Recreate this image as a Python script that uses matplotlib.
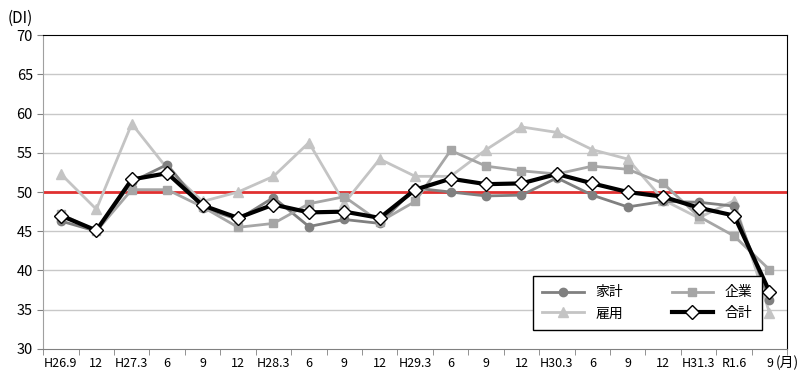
import matplotlib.pyplot as plt

plt.rcParams['font.family'] = ['Noto Sans CJK JP', 'DejaVu Sans']

labels = ['H26.9', '12', 'H27.3', '6', '9', '12', 'H28.3', '6', '9', '12', 'H29.3',
          '6', '9', '12', 'H30.3', '6', '9', '12', 'H31.3', 'R1.6', '9']

kakei = [46.3, 45.0, 51.3, 53.5, 48.0, 46.5, 49.3, 45.6, 46.5, 46.0, 50.5,
         50.0, 49.5, 49.6, 51.8, 49.6, 48.1, 48.8, 48.7, 48.2, 36.2]
kigyo = [47.2, 45.0, 50.3, 50.3, 48.1, 45.5, 46.0, 48.5, 49.4, 46.2, 48.8,
         55.3, 53.3, 52.7, 52.3, 53.3, 52.9, 51.1, 46.9, 44.4, 40.1]
koyo = [52.3, 47.8, 58.7, 53.0, 48.8, 50.0, 52.0, 56.3, 48.6, 54.2, 52.0,
        52.0, 55.4, 58.3, 57.6, 55.4, 54.2, 49.0, 46.7, 48.9, 34.6]
goukei = [47.0, 45.1, 51.6, 52.4, 48.3, 46.7, 48.4, 47.4, 47.5, 46.7, 50.3,
          51.7, 51.0, 51.1, 52.3, 51.1, 50.0, 49.4, 48.0, 47.0, 37.3]

x = list(range(len(labels)))

fig = plt.figure(figsize=(8, 3.78), dpi=100)
ax = fig.add_axes([0.054, 0.077, 0.93, 0.83])

for y in [35, 40, 45, 55, 60, 65]:
    ax.axhline(y, color='#c8c8c8', lw=1, zorder=0)
ax.axhline(50, color='#e03030', lw=2, zorder=1)

l1, = ax.plot(x, kakei, color='#808080', lw=2, marker='o', ms=6, label='家計', zorder=3)
l2, = ax.plot(x, kigyo, color='#a6a6a6', lw=2, marker='s', ms=6, label='企業', zorder=3)
l3, = ax.plot(x, koyo, color='#c4c4c4', lw=2, marker='^', ms=7, label='雇用', zorder=2)
l4, = ax.plot(x, goukei, color='black', lw=3, marker='D', ms=7, mfc='white', mec='black',
              mew=1, label='合計', zorder=4)

ax.set_xlim(-0.5, len(labels) - 0.5)
ax.set_ylim(30, 70)
ax.set_yticks(range(30, 71, 5))
ax.set_xticks(x)
ax.set_xticklabels(labels, fontsize=9)
ax.set_xticks([i - 0.5 for i in range(len(labels) + 1)], minor=True)
ax.tick_params(axis='x', which='major', length=0, pad=6)
ax.tick_params(axis='x', which='minor', length=4, color='#808080')
ax.tick_params(axis='y', labelsize=10.5, length=4, color='#808080')

ax.spines['left'].set_color('#a0a0a0')
ax.spines['bottom'].set_color('#808080')
ax.spines['top'].set_color('black')
ax.spines['right'].set_color('black')

ax.text(-0.048, 1.025, '(DI)', transform=ax.transAxes, fontsize=11, ha='left', va='bottom')
ax.text(1.0, -0.045, '(月)', transform=ax.transAxes, fontsize=10, ha='center', va='center')

leg = ax.legend([l1, l3, l2, l4], ['家計', '雇用', '企業', '合計'],
                loc='lower left', bbox_to_anchor=(0.658, 0.06), ncol=2, fontsize=10,
                fancybox=False, edgecolor='black', framealpha=1, handlelength=3,
                columnspacing=3.5, borderpad=0.7, borderaxespad=0)
leg.get_frame().set_linewidth(1)

fig.savefig('out.png', dpi=100)
